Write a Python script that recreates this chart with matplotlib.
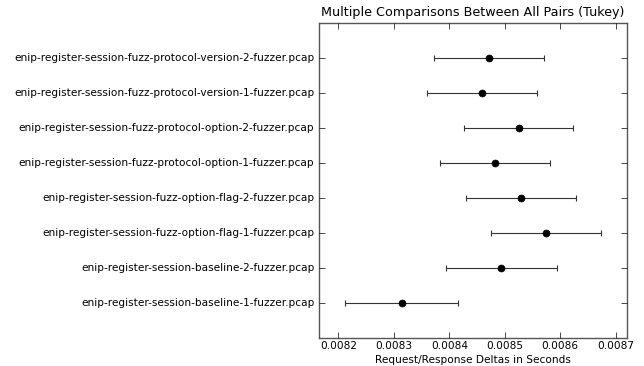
import numpy as np
import matplotlib
matplotlib.use("Agg")
import matplotlib.pyplot as plt

# group names, bottom to top
groups = [
    "enip-register-session-baseline-1-fuzzer.pcap",
    "enip-register-session-baseline-2-fuzzer.pcap",
    "enip-register-session-fuzz-option-flag-1-fuzzer.pcap",
    "enip-register-session-fuzz-option-flag-2-fuzzer.pcap",
    "enip-register-session-fuzz-protocol-option-1-fuzzer.pcap",
    "enip-register-session-fuzz-protocol-option-2-fuzzer.pcap",
    "enip-register-session-fuzz-protocol-version-1-fuzzer.pcap",
    "enip-register-session-fuzz-protocol-version-2-fuzzer.pcap",
]
means = [0.008314, 0.008494, 0.008574, 0.008529, 0.008482, 0.008525, 0.008459, 0.0084715]
halfwidths = [0.000102, 0.0001, 0.0000995, 0.0000995, 0.0000995, 0.0000985, 0.0000985, 0.000099]
xticks = [0.0082, 0.0083, 0.0084, 0.0085, 0.0086, 0.0087]

plt.style.use("classic")
plt.rcParams["font.family"] = "DejaVu Sans"

fig = plt.figure(figsize=(6.44, 3.66), dpi=100, facecolor="white")
ax = fig.add_axes([0.4946, 0.0757, 0.4786, 0.8603])
ypos = np.arange(len(groups))
ax.errorbar(means, ypos, xerr=halfwidths, marker="o", linestyle="None",
            color="k", ecolor="#333333", markersize=5, capsize=2, elinewidth=0.8,
            capthick=0.8)
ax.set_ylim(-1, len(groups))
ax.set_yticks(ypos)
ax.set_yticklabels(groups, fontsize=7.6)
ax.set_xlim(0.008164, 0.00872)
ax.set_xticks(xticks)
ax.set_xticklabels(["%.4f" % t for t in xticks], fontsize=7.6)
ax.tick_params(axis="x", pad=2)
ax.tick_params(axis="y", pad=3)
ax.set_xlabel("Request/Response Deltas in Seconds", fontsize=7.6, labelpad=3)
ax.set_title("Multiple Comparisons Between All Pairs (Tukey)", fontsize=9.2)
for sp in ax.spines.values():
    sp.set_color("#555555")

fig.savefig("out.png", dpi=100, facecolor="white")
